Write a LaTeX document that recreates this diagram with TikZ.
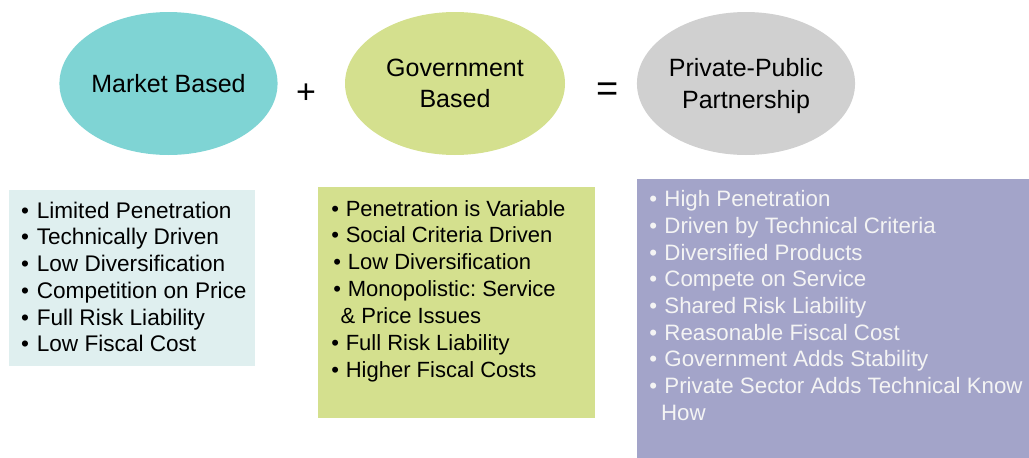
\documentclass[tikz,border=0pt]{standalone}
\usepackage{fontspec}
\setmainfont{Liberation Sans}
\usetikzlibrary{shapes.geometric}
\definecolor{tealE}{HTML}{7FD4D4}
\definecolor{limeE}{HTML}{D4E08E}
\definecolor{greyE}{HTML}{D0D0D0}
\definecolor{boxA}{HTML}{DFEFEF}
\definecolor{boxB}{HTML}{D4E08E}
\definecolor{boxC}{HTML}{A3A4C9}
\definecolor{txtC}{HTML}{F4F4F4}
\tikzset{
  oval/.style={ellipse, inner sep=0pt, minimum height=143pt, align=center,
    font=\fontsize{25}{31.5}\selectfont, text=black},
  sign/.style={inner sep=0pt, anchor=center},
  item/.style={inner sep=0pt, anchor=base west},
  itemA/.style={item, font=\fontsize{22.6}{26}\selectfont},
  itemB/.style={item, font=\fontsize{22}{26}\selectfont},
  itemC/.style={item, text=txtC, font=\fontsize{22.3}{26}\selectfont},
}
\newcommand{\bul}[1]{\makebox[#1][l]{\textbullet}}
\frenchspacing
\begin{document}
\begin{tikzpicture}[x=1pt,y=-1pt]
\useasboundingbox (0,0) rectangle (1029,458);
% ellipses
\node[oval, fill=tealE, minimum width=217pt] (mkt) at (168.5,83.5) {Market Based};
\node[oval, fill=limeE, minimum width=220pt] (gov) at (455,83.5) {Government\\Based};
\node[oval, fill=greyE, minimum width=218pt] (ppp) at (746,83.5) {Private-Public\\\smash{Partnership}};
\node[sign, font=\fontsize{34}{36}\selectfont] (plus) at (306,93.3) {+};
\node[sign, font=\fontsize{38}{40}\selectfont] (eq) at (607.5,92) {=};
% panels
\path[fill=boxA] (9,190) rectangle (255,366);
\path[fill=boxB] (318,187) rectangle (595,418);
\path[fill=boxC] (637,179) rectangle (1029,458);
% panel 1
\foreach \t [count=\i] in {Limited Penetration, Technically Driven, Low Diversification, Competition on Price, Full Risk Liability, Low Fiscal Cost}
  \node[itemA] (a\i) at (21,{218.2+(\i-1)*26.7}) {\bul{15.6pt}\t};
% panel 2
\foreach \t/\dx [count=\i] in {Penetration is Variable/0, Social Criteria Driven/0, Low Diversification/2, Monopolistic: Service/2}
  \node[itemB] (b\i) at ({331.2+\dx},{216+(\i-1)*26.85}) {\bul{14.4pt}\t};
\node[itemB] (b5) at (340.4,{216+4*26.85}) {\& Price Issues};
\foreach \t [count=\i from 6] in {Full Risk Liability, Higher Fiscal Costs}
  \node[itemB] (b\i) at (331.2,{216+(\i-1)*26.85}) {\bul{14.4pt}\t};
% panel 3
\foreach \t [count=\i] in {High Penetration, Driven by Technical Criteria, Diversified Products, Compete on Service, Shared Risk Liability, Reasonable Fiscal Cost, Government Adds Stability, Private Sector Adds Technical Know}
  \node[itemC] (c\i) at (649.1,{206.7+(\i-1)*26.67}) {\bul{15.1pt}\t};
\node[itemC] (c9) at (660.9,{206.7+8*26.67}) {How};
\end{tikzpicture}
\end{document}
